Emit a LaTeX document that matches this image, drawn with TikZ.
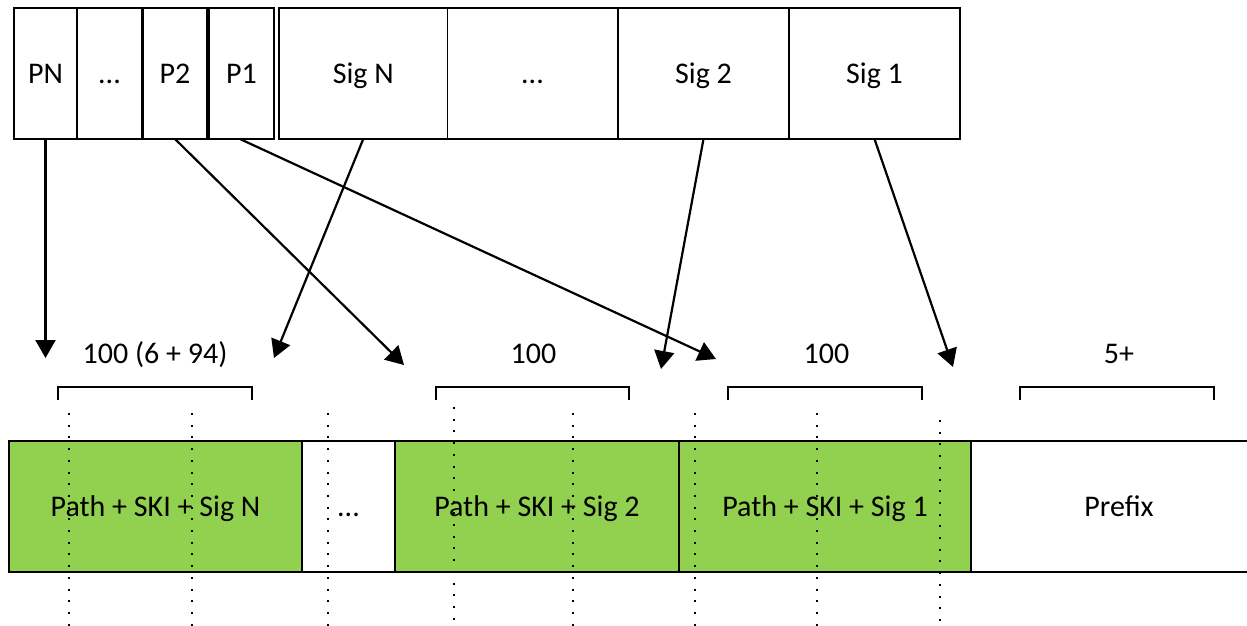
\documentclass[tikz,border=0pt]{standalone}
\usepackage{fontspec}
\setmainfont{Carlito}
\usetikzlibrary{arrows.meta}
\definecolor{boxgreen}{HTML}{92D050}
\begin{document}
\begin{tikzpicture}[x=1pt,y=-1pt,
  cell/.style={draw=black, line width=1.6pt, inner sep=0pt, outer sep=0pt,
    text height=19pt, text depth=0pt, minimum height=131pt,
    font=\fontsize{30}{36}\selectfont},
  greencell/.style={cell, fill=boxgreen},
  ptr/.style={line width=2.2pt, -{Triangle[length=18pt,width=20pt]}},
  brk/.style={line width=1.8pt},
  dots/.style={line width=2pt, dash pattern=on 2pt off 9.7pt},
  lbl/.style={anchor=base, inner sep=0pt, font=\fontsize{30}{36}\selectfont}
]
\useasboundingbox (0,0) rectangle (1247,626);

% top row
\node[cell, minimum width=63pt]    (pn) at (45.5,73.5)   {PN};
\node[cell, minimum width=65pt]    (td) at (109.5,73.5)  {...};
\node[cell, minimum width=64pt]    (p2) at (175,73.5)    {P2};
\node[cell, minimum width=65pt]    (p1) at (241.5,73.5)  {P1};
\node[cell, minimum width=168.5pt] (sn) at (363.25,73.5) {Sig N};
\node[cell, minimum width=170pt]   (sd) at (532.5,73.5)  {...};
\node[cell, minimum width=171pt]   (s2) at (703.5,73.5)  {Sig 2};
\node[cell, minimum width=171pt]   (s1) at (874.5,73.5)  {Sig 1};

% bottom row
\node[greencell, minimum width=293pt] (g1) at (155.5,506.5) {Path + SKI + Sig N};
\node[cell, minimum width=93pt]       (bd) at (348.5,506.5) {...};
\node[greencell, minimum width=284pt] (g2) at (537,506.5)   {Path + SKI + Sig 2};
\node[greencell, minimum width=292pt] (g3) at (825,506.5)   {Path + SKI + Sig 1};
\node[cell, draw=none, fill=white, minimum width=296pt] (pf) at (1119,506.5) {Prefix};
\draw[line width=1.6pt] (pf.north east) -- (pf.north west) -- (pf.south west) -- (pf.south east);

% size brackets and labels
\draw[brk] (58,400) -- (58,387) -- (252,387) -- (252,400);
\draw[brk] (436,400) -- (436,387) -- (629,387) -- (629,400);
\draw[brk] (728,400) -- (728,387) -- (922,387) -- (922,400);
\draw[brk] (1020,400) -- (1020,387) -- (1214,387) -- (1214,400);
\node[lbl] (l1) at (155,363)   {100 (6 + 94)};
\node[lbl] (l2) at (533.5,363) {100};
\node[lbl] (l3) at (826.5,363) {100};
\node[lbl] (l4) at (1119,363)  {5+};

% dotted guides
\foreach \x/\y in {69/413,192/413,328/413,454/407,573/413,695/413,817/413,940/420}
  \draw[dots] (\x,\y) -- (\x,632);

% arrow targets
\coordinate (tpn) at (45.5,358);
\coordinate (tsn) at (274,358);
\coordinate (tp2) at (404,365);
\coordinate (tp1) at (716,359);
\coordinate (ts2) at (661,369);
\coordinate (ts1) at (953,367);

\draw[ptr] (pn.south) -- (tpn);
\draw[ptr] (p2.south) -- (tp2);
\draw[ptr] ([xshift=-1.5pt]p1.south) -- (tp1);
\draw[ptr] (sn.south) -- (tsn);
\draw[ptr] (s2.south) -- (ts2);
\draw[ptr] (s1.south) -- (ts1);
\end{tikzpicture}
\end{document}
